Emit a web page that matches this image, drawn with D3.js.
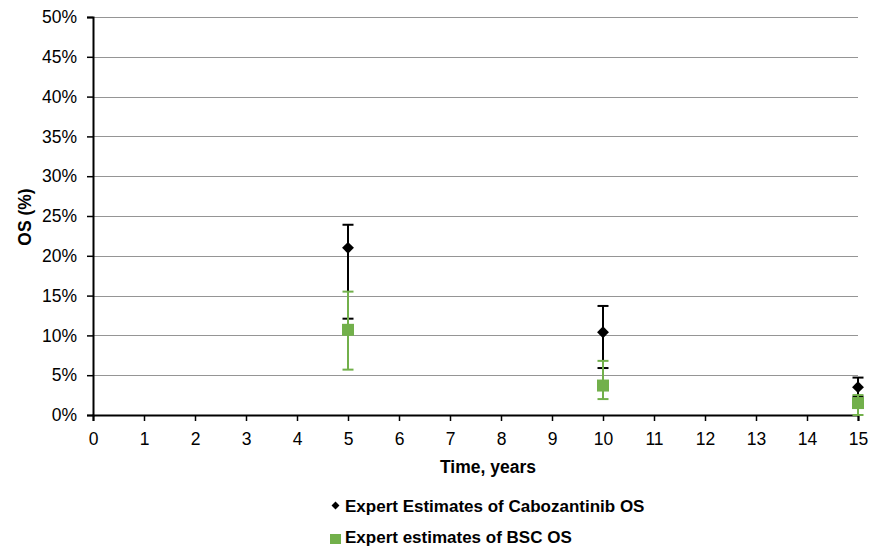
<!DOCTYPE html>
<html>
<head>
<meta charset="utf-8">
<script src="https://cdn.jsdelivr.net/npm/d3@7"></script>
<style>
  html, body { margin: 0; padding: 0; background: #fff; }
  svg { display: block; font-family: "Liberation Sans", Arial, sans-serif; }
</style>
</head>
<body>
<svg id="chart" width="869" height="550"></svg>
<script>
// Time points (years)
const years = [5, 10, 15];
// Cabozantinib OS: point estimate, lower and upper bound (%)
const caboOS = [21.0, 10.4, 3.5];
const caboLow = [12.1, 5.9, 2.3];
const caboHigh = [23.9, 13.7, 4.7];
// BSC OS: point estimate, lower and upper bound (%)
const bscOS = [10.7, 3.7, 1.5];
const bscLow = [5.7, 2.0, 0.0];
const bscHigh = [15.5, 6.8, 2.5];
// Axis ticks
const xTicks = d3.range(0, 16);
const yTicks = d3.range(0, 51, 5);
const seriesNames = ["Expert Estimates of Cabozantinib OS", "Expert estimates of BSC OS"];

const svg = d3.select("#chart");
const margin = { left: 93, right: 11, top: 17, bottom: 135 };
const W = 869, H = 550;

const x = d3.scaleLinear().domain([0, 15]).range([margin.left, W - margin.right]);
const y = d3.scaleLinear().domain([0, 50]).range([H - margin.bottom, margin.top]);

// Horizontal gridlines
svg.append("g")
  .selectAll("line")
  .data(yTicks.filter(d => d > 0))
  .join("line")
  .attr("x1", x(0)).attr("x2", x(15))
  .attr("y1", d => Math.round(y(d)) + 0.5).attr("y2", d => Math.round(y(d)) + 0.5)
  .attr("stroke", "#959595").attr("stroke-width", 1);

// Y axis
const yAxis = svg.append("g")
  .attr("transform", `translate(${x(0)},0)`)
  .call(d3.axisLeft(y).tickValues(yTicks).tickSize(6).tickPadding(10).tickFormat(d => d + "%"));
yAxis.select(".domain").attr("stroke", "#000").attr("stroke-width", 2);
yAxis.selectAll(".tick line").attr("stroke", "#000").attr("stroke-width", 1.5);
yAxis.selectAll(".tick text").attr("font-size", 17.5).attr("fill", "#000")
  .attr("font-family", "Liberation Sans, Arial, sans-serif");

// X axis
const xAxis = svg.append("g")
  .attr("transform", `translate(0,${y(0)})`)
  .call(d3.axisBottom(x).tickValues(xTicks).tickSize(6).tickPadding(11.5).tickFormat(d3.format("d")));
xAxis.select(".domain").attr("stroke", "#000").attr("stroke-width", 2);
xAxis.selectAll(".tick line").attr("stroke", "#000").attr("stroke-width", 1.5);
xAxis.selectAll(".tick text").attr("font-size", 17.5).attr("fill", "#000")
  .attr("font-family", "Liberation Sans, Arial, sans-serif");

// Axis titles
svg.append("text")
  .attr("x", 488).attr("y", 473)
  .attr("text-anchor", "middle").attr("font-size", 17.5).attr("font-weight", "bold")
  .text("Time, years");
svg.append("text")
  .attr("transform", `translate(31,217) rotate(-90)`)
  .attr("text-anchor", "middle").attr("font-size", 17.5).attr("font-weight", "bold")
  .text("OS (%)");

const green = "#72b04b";

function errorBars(lows, highs, color, capW) {
  const g = svg.append("g");
  const rows = years.map((t, i) => ({ t, lo: lows[i], hi: highs[i] }));
  g.selectAll("line.v").data(rows).join("line")
    .attr("x1", d => x(d.t)).attr("x2", d => x(d.t))
    .attr("y1", d => y(d.lo)).attr("y2", d => y(d.hi))
    .attr("stroke", color).attr("stroke-width", 2);
  ["lo", "hi"].forEach(k => {
    g.selectAll("line." + k).data(rows).join("line")
      .attr("x1", d => x(d.t) - capW / 2).attr("x2", d => x(d.t) + capW / 2)
      .attr("y1", d => y(d[k])).attr("y2", d => y(d[k]))
      .attr("stroke", color).attr("stroke-width", 2);
  });
}

// Cabozantinib series
errorBars(caboLow, caboHigh, "#000", 11);
svg.append("g").selectAll("path")
  .data(years.map((t, i) => ({ t, v: caboOS[i] })))
  .join("path")
  .attr("d", d3.symbol(d3.symbolDiamond2, 90))
  .attr("transform", d => `translate(${x(d.t)},${y(d.v)})`)
  .attr("fill", "#000");

// BSC series
errorBars(bscLow, bscHigh, green, 11);
svg.append("g").selectAll("rect")
  .data(years.map((t, i) => ({ t, v: bscOS[i] })))
  .join("rect")
  .attr("x", d => x(d.t) - 6).attr("y", d => y(d.v) - 6)
  .attr("width", 12).attr("height", 12)
  .attr("fill", green);

// Legend
const legend = svg.append("g");
legend.append("path")
  .attr("d", d3.symbol(d3.symbolDiamond2, 40))
  .attr("transform", "translate(335.5,505.5)")
  .attr("fill", "#000");
legend.append("rect")
  .attr("x", 330).attr("y", 534).attr("width", 11).attr("height", 10)
  .attr("fill", green);
legend.selectAll("text").data(seriesNames).join("text")
  .attr("x", 345).attr("y", (d, i) => 512 + i * 31)
  .attr("font-size", 17).attr("font-weight", "bold")
  .text(d => d);
</script>
</body>
</html>
